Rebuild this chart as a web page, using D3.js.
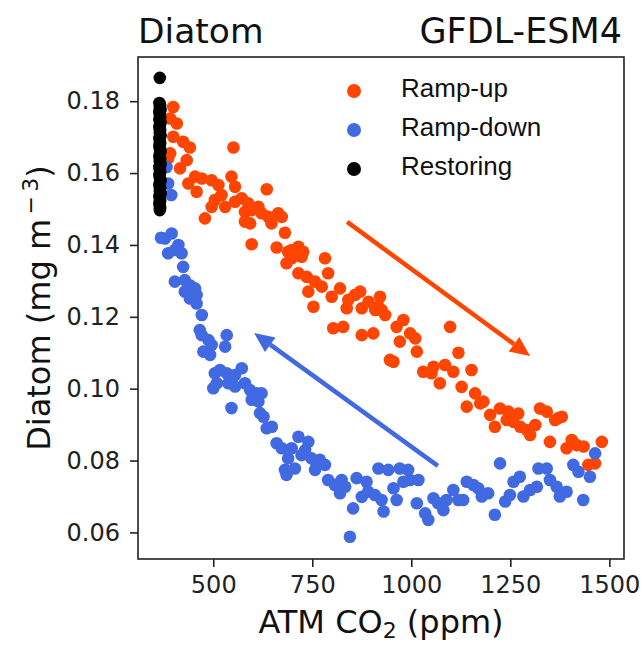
<!DOCTYPE html>
<html>
<head>
<meta charset="utf-8">
<script src="https://cdn.jsdelivr.net/npm/d3@7"></script>
<style>
  body { margin: 0; background: #fff; }
  svg { display: block; }
</style>
</head>
<body>
<svg id="chart"></svg>
<script>
// ---- data (ATM CO2 in ppm, diatom in mg m-3) ----
const rampUpCO2 = [399,391,408,399,424,441,391,386,433,416,551,546,555,454,437,471,496,513,458,635,
  504,521,496,530,555,572,588,580,597,614,622,639,664,673,479,580,593,647,681,597,
  660,698,715,727,782,689,698,685,723,790,715,736,757,774,740,753,799,820,841,858,
  892,921,917,875,909,803,828,875,904,837,871,925,934,963,980,997,1010,1014,971,946,
  955,1030,1056,1051,1085,1106,1072,1098,1119,1152,1127,1161,1182,1140,1199,1224,1245,1270,1325,1342,
  1380,1174,1211,1241,1258,1275,1292,1300,1313,1371,1363,1350,1392,1405,1418,1435,1481,1447,1464];
const rampUpDiatom = [.1784,.1752,.1738,.1701,.1687,.1671,.1655,.1641,.1636,.1613,.1671,.1590,.1562,.1590,.1571,.1585,.1580,.1567,.1548,.1555,
  .1525,.1539,.1506,.1506,.1520,.1530,.1516,.1492,.1497,.1506,.1488,.1478,.1488,.1478,.1474,.1465,.1460,.1460,.1434,.1402,
  .1393,.1386,.1395,.1381,.1363,.1381,.1363,.1349,.1367,.1321,.1321,.1311,.1298,.1284,.1270,.1228,.1256,.1279,.1247,.1261,
  .1242,.1256,.1228,.1224,.1219,.1168,.1172,.1149,.1154,.1224,.1270,.1219,.1205,.1172,.1191,.1154,.1140,.1103,.1131,.1080,
  .1075,.1047,.1061,.1043,.1066,.1047,.1015,.1172,.1100,.1052,.1005,.0987,.0964,.0950,.0927,.0945,.0936,.0931,.0945,.0936,
  .0922,.0959,.0894,.0913,.0908,.0894,.0885,.0871,.0899,.0918,.0913,.0852,.0834,.0857,.0843,.0839,.0852,.0788,.0792];

const rampDownCO2 = [382,386,394,378,395,386,412,420,403,368,424,403,428,441,454,428,445,458,441,458,
  471,466,471,488,496,475,492,534,530,504,517,534,555,572,509,500,538,555,580,593,
  610,622,597,614,546,618,627,635,648,660,673,689,698,715,740,732,723,681,685,706,
  748,761,769,782,757,790,807,824,833,820,862,887,853,845,875,891,908,925,930,917,
  942,971,992,980,997,1018,955,963,1014,1035,1043,1056,1068,1081,1089,1106,1119,1131,1140,1157,
  1169,1178,1194,1224,1211,1237,1249,1258,1274,1283,1300,1317,1321,1342,1350,1367,1375,1392,1409,1422,
  1434,1451,1464];
const rampDownDiatom = [.1617,.1571,.1539,.1418,.1432,.1377,.1400,.1377,.1386,.1420,.1339,.1298,.1302,.1288,.1279,.1270,.1265,.1261,.1251,.1237,
  .1205,.1163,.1149,.1135,.1122,.1103,.1094,.1149,.1117,.1043,.1052,.1043,.1038,.1057,.1015,.1001,.1015,.1006,.1015,.0996,
  .0987,.0987,.0969,.0964,.0946,.0932,.0922,.0890,.0894,.0848,.0834,.0806,.0834,.0866,.0852,.0829,.0815,.0774,.0760,.0778,
  .0806,.0788,.0802,.0788,.0774,.0746,.0732,.0746,.0727,.0709,.0751,.0741,.0667,.0588,.0699,.0713,.0704,.0690,.0658,.0778,
  .0774,.0778,.0774,.0741,.0746,.0746,.0723,.0690,.0681,.0653,.0635,.0695,.0681,.0662,.0690,.0718,.0690,.0690,.0741,.0732,
  .0723,.0700,.0709,.0792,.0649,.0686,.0704,.0741,.0755,.0700,.0718,.0727,.0778,.0778,.0746,.0727,.0700,.0713,.0788,.0769,
  .0690,.0755,.0820];

const restoringCO2 = [365,364,366,365,367,364,365,366,364,367,365,364,366,365,367,364,365,366,364,365,
  367,365,364,366,365,367,364,365,366,364,365,367,365,364,366,365,367,364,365,366,364,365,366,365];
const restoringDiatom = [.1865,.1795,.1788,.1781,.1776,.1770,.1762,.1755,.1749,.1741,.1733,.1727,.1719,.1712,.1705,.1698,.1690,.1683,.1677,.1669,
  .1661,.1654,.1646,.1639,.1633,.1625,.1617,.1610,.1602,.1595,.1588,.1580,.1573,.1566,.1558,.1551,.1544,.1537,.1530,.1523,
  .1516,.1509,.1503,.1497];

const xTicks = [500, 750, 1000, 1250, 1500];
const yTicks = [0.06, 0.08, 0.10, 0.12, 0.14, 0.16, 0.18];

const seriesNames = ["Ramp-up", "Ramp-down", "Restoring"];
const seriesColors = ["#ff4500", "#4169e1", "#000000"];

// arrows: [co2 start, diatom start, co2 end, diatom end]
const upArrow = [838, 0.1464, 1300, 0.1091];
const downArrow = [1067, 0.0785, 603, 0.1155];

// ---- layout ----
const width = 643, height = 646;
const marginLeft = 138, marginRight = 19, marginTop = 57, marginBottom = 87;
const dotR = 6.3;

const svg = d3.select('#chart')
  .attr('width', width)
  .attr('height', height)
  .attr('viewBox', [0, 0, width, height]);

const x = d3.scaleLinear().domain([310, 1537]).range([marginLeft, width - marginRight]);
const y = d3.scaleLinear().domain([0.0526, 0.1923]).range([height - marginBottom, marginTop]);

const fontMain = '"DejaVu Sans", sans-serif';

// x axis
const gx = svg.append('g')
  .attr('transform', `translate(0,${height - marginBottom})`)
  .call(d3.axisBottom(x).tickValues(xTicks).tickSize(8).tickPadding(9).tickFormat(d3.format('d')));
gx.select('.domain').remove();
gx.selectAll('.tick line').attr('stroke', '#222').attr('stroke-width', 1.6);
gx.selectAll('.tick text').attr('fill', '#222').style('font-family', fontMain).style('font-size', '24px');

// y axis
const gy = svg.append('g')
  .attr('transform', `translate(${marginLeft},0)`)
  .call(d3.axisLeft(y).tickValues(yTicks).tickSize(8).tickPadding(10).tickFormat(d3.format('.2f')));
gy.select('.domain').remove();
gy.selectAll('.tick line').attr('stroke', '#222').attr('stroke-width', 1.6);
gy.selectAll('.tick text').attr('fill', '#222').style('font-family', fontMain).style('font-size', '24px');

// points: ramp-up, then ramp-down, then restoring on top
const series = [
  d3.zip(rampUpCO2, rampUpDiatom),
  d3.zip(rampDownCO2, rampDownDiatom),
  d3.zip(restoringCO2, restoringDiatom)
];
series.forEach((pts, i) => {
  svg.append('g')
    .selectAll('circle')
    .data(pts)
    .join('circle')
    .attr('cx', d => x(d[0]))
    .attr('cy', d => y(d[1]))
    .attr('r', dotR)
    .attr('fill', seriesColors[i]);
});

// arrows
function drawArrow(a, color) {
  const x1 = x(a[0]), y1 = y(a[1]), x2 = x(a[2]), y2 = y(a[3]);
  const ang = Math.atan2(y2 - y1, x2 - x1);
  const headLen = 20, headW = 9;
  const bx = x2 - headLen * Math.cos(ang), by = y2 - headLen * Math.sin(ang);
  svg.append('line')
    .attr('x1', x1).attr('y1', y1).attr('x2', bx).attr('y2', by)
    .attr('stroke', color).attr('stroke-width', 4.5);
  const px = -Math.sin(ang), py = Math.cos(ang);
  svg.append('polygon')
    .attr('points', [[x2, y2], [bx + px * headW, by + py * headW], [bx - px * headW, by - py * headW]].map(p => p.join(',')).join(' '))
    .attr('fill', color);
}
drawArrow(upArrow, seriesColors[0]);
drawArrow(downArrow, seriesColors[1]);

// frame
svg.append('rect')
  .attr('x', marginLeft).attr('y', marginTop)
  .attr('width', width - marginLeft - marginRight)
  .attr('height', height - marginTop - marginBottom)
  .attr('fill', 'none').attr('stroke', '#222').attr('stroke-width', 1.6);

// legend
const legend = svg.append('g').attr('transform', `translate(${marginLeft + 216},${marginTop + 34})`);
seriesNames.forEach((name, i) => {
  legend.append('circle').attr('cx', 0).attr('cy', i * 39).attr('r', 7).attr('fill', seriesColors[i]);
  legend.append('text').attr('x', 47).attr('y', i * 39 + 6).text(name)
    .style('font-family', '"Liberation Sans", Arial, sans-serif').style('font-size', '26px').attr('fill', '#111');
});

// titles
svg.append('text').attr('x', marginLeft).attr('y', 43).text('Diatom')
  .style('font-family', fontMain).style('font-size', '34.5px').attr('fill', '#111');
svg.append('text').attr('x', width - 21).attr('y', 43).attr('text-anchor', 'end').text('GFDL-ESM4')
  .style('font-family', fontMain).style('font-size', '35px').attr('fill', '#111');

// x label
const xl = svg.append('text')
  .attr('x', (marginLeft + width - marginRight) / 2).attr('y', 633)
  .attr('text-anchor', 'middle')
  .style('font-family', fontMain).style('font-size', '32px').attr('fill', '#111');
xl.append('tspan').text('ATM CO');
xl.append('tspan').text('2').attr('dy', 5).style('font-size', '22px');
xl.append('tspan').text(' (ppm)').attr('dy', -5);

// y label
const yl = svg.append('text')
  .attr('transform', `translate(50,${(marginTop + height - marginBottom) / 2}) rotate(-90)`)
  .attr('text-anchor', 'middle')
  .style('font-family', fontMain).style('font-size', '32px').attr('fill', '#111');
yl.append('tspan').text('Diatom (mg m');
yl.append('tspan').text('\u2009\u2212\u20093').attr('dy', -12).style('font-size', '22px');
yl.append('tspan').text(')').attr('dy', 12);
</script>
</body>
</html>
